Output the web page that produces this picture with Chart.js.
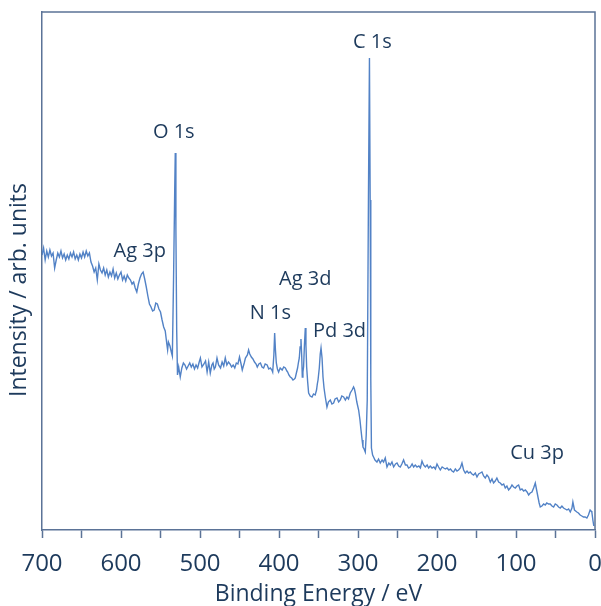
<!DOCTYPE html>
<html><head><meta charset="utf-8">
<script src="https://cdn.jsdelivr.net/npm/chart.js@4/dist/chart.umd.min.js"></script>
<style>html,body{margin:0;padding:0;background:#fff}</style>
</head><body>
<canvas id="c" width="601" height="606"></canvas>
<script>
const energies = [700,698,696,694,692,690,688,686,684,682,680,678,676,674,672,670,668,666,664,662,660,658,656,654,652,650,648,646,644,642,640,638,636,634,632,630,628,626,624,622,620,618,616,614,612,610,608,606,604,602,600,598,596,594,592,590,588,586,584,582,580,578,576,574,572,570,568,566,564,562,560,558,556,554,552,550,548,546,544,542,541,540,538,536,535,533.5,532,531.3,530.5,529.5,528.5,527,525,523,521,519,517,515,513,511,509,507,505,503,501,499.5,497.5,495,493,491,489,487,485,483.5,482,480.5,478.5,476.5,474,472,470,468,466,464,462,460,458,456,454,452,450,448,446.5,444,442.5,440,438.5,437,435,433,431,429,427.5,425.5,423.5,421.5,419.5,417.5,415,413,411,409,408,406.5,405.5,404.5,403.4,402,400.5,398.5,396,394,392,390,389,387.5,385.7,384,382.3,380.5,379.4,378,376.5,375.3,374.3,373.3,372.2,371.3,370.5,369.7,368.9,367.8,366.7,365.9,365,363.7,362.5,360.5,358.2,356.3,354.2,352.5,351.5,350.6,349,347.8,346.8,345.5,344.3,343,341.4,339.3,337.5,335.1,333,330.9,329,326.6,324.5,322.4,320.5,318.2,316,314,312,309.8,307.5,305.6,304.5,303.4,301.5,299.2,297.5,296.2,294.8,293.7,292.3,290.8,289.6,288.3,286.8,285.5,284.6,283.8,283,281.5,280.3,278.5,276,274,271.8,269.5,267.6,265.5,263.3,261,259.1,257,254.9,252.5,250.6,248.5,246.5,244.5,242.3,240,238,236,233.8,231.5,229.6,227.5,225.3,223,221,219,217,214.8,212.5,210.6,208.5,206.3,204,202,200,198,195.8,193.5,191.5,189.3,187.3,185,183,181,179,176.8,174.7,172.7,170.5,168.4,166.3,164.2,162,160,157.9,155.8,153.7,151.5,149.4,147.3,145.2,143.1,141,138.9,136.8,134.7,133.5,132.5,130.4,128.4,126.3,124.2,122,119.9,117.7,115.6,113.6,111.5,109.4,107.2,105.1,103,100.9,98.8,96.7,94.6,92.5,90.3,88.2,86,84,82,79.8,77.7,75.6,73.9,72.2,70.7,69.3,67.2,65,63,61,58.8,56.7,54.5,52.4,50.3,48.2,46.1,44,41.9,39.8,37.7,35.5,33.4,31.3,29.2,28,27,26,24.5,23,21,18.8,16.7,14.6,12.5,10.3,8.3,6.2,5,4,2.7,1.5];
const intensities = [275,282,270,279,273,280,274,277,262,270,277,273,279,272,276,270,275,271,277,273,278,271,275,270,276,272,278,273,279,274,277,268,264,258,262,250,266,260,257,262,255,260,253,258,254,261,252,257,251,255,258,250,254,249,255,252,250,246,248,242,238,246,252,256,258,251,243,234,226,223,219,220,227,226,221,218,210,203,199,186,180,188,184,177,174,250,340,377,300,200,155,163,153,162,167,165,161,164,167,163,166,161,165,162,168,172,163,166,169,158,168,157,165,167,161,163,172,165,162,168,164,172,165,168,166,163,165,162,167,166,173,166,160,167,172,175,180,176,173,171,168,166,163,166,167,163,162,166,165,161,162,160,158,175,197,180,167,161,158,162,160,163,162,159,158,155,153,152,150,151,152,157,162,168,172,183,191,175,153,158,163,185,202,185,163,148,137,134,133,136,135,140,146,150,162,176,182,172,153,142,133,123,128,130,126,127,131,132,128,130,134,133,130,133,131,137,140,143,141,137,128,120,110,100,90,83,81,78,95,130,330,472,330,150,82,75,73,70,68,71,67,70,68,72,63,67,65,68,63,66,67,64,63,66,70,65,65,62,63,66,63,65,63,64,62,69,65,63,65,62,64,62,63,61,66,63,60,63,62,61,62,60,61,59,58,61,59,60,62,67,60,57,59,57,58,56,55,57,53,56,57,58,54,52,55,53,50,48,51,47,49,52,48,47,45,46,42,44,40,42,45,43,42,44,45,40,41,39,40,38,35,37,38,42,47,40,33,27,23,24,26,25,27,26,26,24,23,26,25,23,22,24,22,21,20,21,18,22,28,24,20,19,18,17,15,14,13,13,12,15,20,19,18,10,4];
const xTickValues = [700,650,600,550,500,450,400,350,300,250,200,150,100,50,0];
const xTickLabels = [700,600,500,400,300,200,100,0];
const peakLabels = ['C 1s','O 1s','Ag 3p','Ag 3d','N 1s','Pd 3d','Cu 3p'];
const peakLabelEnergies = [281.9,533.2,576.2,366.7,411,323.4,73.4];
const peakLabelHeights = [487.7,397.3,278.8,250.5,216.8,198.5,76.5];

if (energies.length !== intensities.length) {
  throw new Error('length mismatch ' + energies.length + ' vs ' + intensities.length);
}

const axisColor = '#5b7397';
const textColor = '#1d3a5c';
const lineColor = '#5282c6';
const fontFam = '"Open Sans", "Noto Sans", sans-serif';

const decor = {
  id: 'decor',
  afterDraw(chart) {
    const {ctx, chartArea: a, scales} = chart;
    ctx.save();
    ctx.strokeStyle = axisColor;
    ctx.lineWidth = 1.5;
    ctx.beginPath();
    ctx.moveTo(a.left, a.top);
    ctx.lineTo(a.right, a.top);
    ctx.lineTo(a.right, a.bottom);
    ctx.stroke();
    ctx.fillStyle = textColor;
    ctx.font = '20px ' + fontFam;
    ctx.textAlign = 'center';
    ctx.textBaseline = 'middle';
    peakLabels.forEach((t, i) => {
      ctx.fillText(t, scales.x.getPixelForValue(peakLabelEnergies[i]), scales.y.getPixelForValue(peakLabelHeights[i]));
    });
    ctx.font = '23px ' + fontFam;
    ctx.translate(19, 290);
    ctx.rotate(-Math.PI / 2);
    ctx.fillText('Intensity / arb. units', 0, 0);
    ctx.restore();
  }
};

new Chart(document.getElementById('c'), {
  type: 'line',
  data: {
    datasets: [{
      data: energies.map((e, i) => ({x: e, y: intensities[i]})),
      borderColor: lineColor,
      borderWidth: 1.4,
      pointRadius: 0,
      tension: 0,
      fill: false
    }]
  },
  options: {
    responsive: false,
    animation: false,
    layout: {padding: {top: 12, right: 6, left: 0, bottom: 0}},
    plugins: {legend: {display: false}, tooltip: {enabled: false}},
    scales: {
      x: {
        type: 'linear',
        reverse: true,
        min: 0,
        max: 700,
        afterFit(s) { s.height = 76; s.paddingLeft = 0; s.paddingRight = 0; },
        afterBuildTicks(s) { s.ticks = xTickValues.map(v => ({value: v})); },
        ticks: {
          autoSkip: false,
          maxRotation: 0,
          padding: 12,
          color: textColor,
          font: {family: fontFam, size: 24},
          callback: (v) => xTickLabels.includes(v) ? String(v) : ''
        },
        grid: {drawOnChartArea: false, drawTicks: true, tickLength: 8, tickColor: axisColor, tickWidth: 1.5},
        border: {color: axisColor, width: 1.5},
        title: {display: true, text: 'Binding Energy / eV', color: textColor, font: {family: fontFam, size: 23, lineHeight: 1}, padding: {top: 0, bottom: 0}}
      },
      y: {
        min: 0,
        max: 518,
        afterFit(s) { s.width = 42; s.paddingTop = 0; s.paddingBottom = 0; },
        ticks: {display: false},
        grid: {display: false},
        border: {color: axisColor, width: 1.5}
      }
    }
  },
  plugins: [decor]
});
</script>
</body></html>
